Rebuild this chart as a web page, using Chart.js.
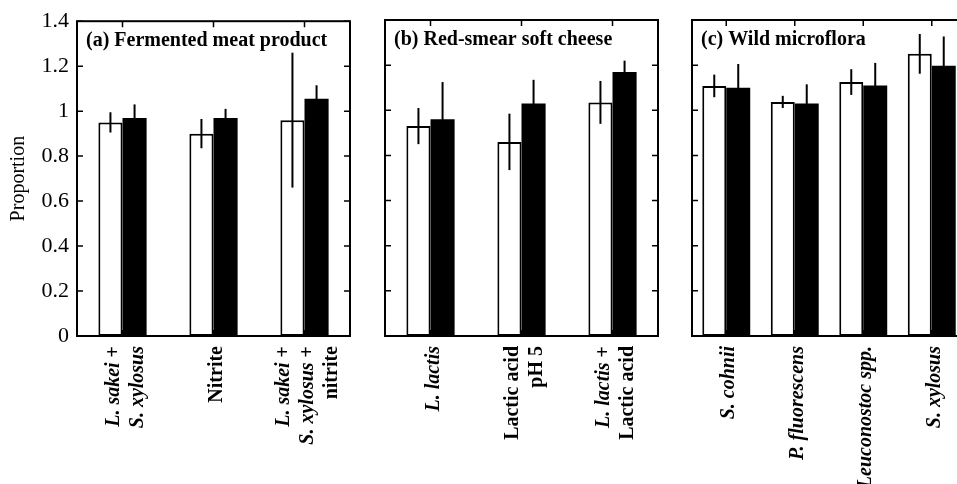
<!DOCTYPE html>
<html>
<head>
<meta charset="utf-8">
<script src="https://cdn.jsdelivr.net/npm/chart.js@4.4.0/dist/chart.umd.min.js"></script>
<style>
  html, body { margin: 0; padding: 0; background: #fff; overflow: hidden; width: 957px; height: 484px; position: relative; }
  canvas { position: absolute; top: 0; }
</style>
</head>
<body>
<canvas id="pa" width="362" height="484" style="left:0"></canvas>
<canvas id="pb" width="300" height="484" style="left:370px"></canvas>
<canvas id="pc" width="300" height="484" style="left:677px"></canvas>
<script>
// ---- data ----
const yTicks = [0, 0.2, 0.4, 0.6, 0.8, 1, 1.2, 1.4];
const yTitle = "Proportion";

// label lines: each segment is [text, italic]
const titleA = "(a) Fermented meat product";
const labelsA = [
  [[["L. sakei", 1], [" +", 0]], [["S. xylosus", 1]]],
  [[["Nitrite", 0]]],
  [[["L. sakei", 1], [" +", 0]], [["S. xylosus", 1], [" +", 0]], [["nitrite", 0]]],
];
const whiteA = [0.95, 0.90, 0.96];
const whiteErrA = [0.045, 0.065, 0.30];
const blackA = [0.97, 0.97, 1.055];
const blackErrA = [0.06, 0.04, 0.06];

const titleB = "(b) Red-smear soft cheese";
const labelsB = [
  [[["L. lactis", 1]]],
  [[["Lactic acid", 0]], [["pH 5", 0]]],
  [[["L. lactis", 1], [" +", 0]], [["Lactic acid", 0]]],
];
const whiteB = [0.93, 0.86, 1.035];
const whiteErrB = [0.08, 0.125, 0.095];
const blackB = [0.96, 1.03, 1.17];
const blackErrB = [0.165, 0.105, 0.05];

const titleC = "(c) Wild microflora";
const labelsC = [
  [[["S. cohnii", 1]]],
  [[["P. fluorescens", 1]]],
  [[["Leuconostoc spp.", 1]]],
  [[["S. xylosus", 1]]],
];
const whiteC = [1.108, 1.037, 1.125, 1.25];
const whiteErrC = [0.05, 0.027, 0.057, 0.088];
const blackC = [1.10, 1.03, 1.11, 1.197];
const blackErrC = [0.105, 0.085, 0.10, 0.13];

const SERIF = '"Liberation Serif", "Times New Roman", serif';

function plainLabel(lines) {
  return lines.map((line) => line.map((s) => s[0]).join("")).join(" ");
}

function makePanel(id, cfg) {
  const panelPlugin = {
    id: "panel_" + id,
    beforeDatasetsDraw(chart) {
      const { ctx, chartArea: a, scales } = chart;
      ctx.save();
      ctx.strokeStyle = "#000";
      ctx.lineWidth = 1.5;
      ctx.beginPath();
      for (const v of yTicks) {
        const y = scales.y.getPixelForValue(v);
        ctx.moveTo(a.left, y); ctx.lineTo(a.left + 6, y);
        ctx.moveTo(a.right, y); ctx.lineTo(a.right - 6, y);
      }
      cfg.labels.forEach((_, i) => {
        const x = scales.x.getPixelForValue(i);
        ctx.moveTo(x, a.top); ctx.lineTo(x, a.top + 6);
        ctx.moveTo(x, a.bottom); ctx.lineTo(x, a.bottom - 6);
      });
      ctx.stroke();
      ctx.restore();
    },
    afterDatasetsDraw(chart) {
      const { ctx, chartArea: a, scales } = chart;
      ctx.save();
      // error bars
      ctx.strokeStyle = "#000";
      ctx.lineWidth = 2;
      cfg.errors.forEach((errs, di) => {
        const meta = chart.getDatasetMeta(di);
        const vals = chart.data.datasets[di].data;
        meta.data.forEach((bar, j) => {
          const y1 = scales.y.getPixelForValue(vals[j] + errs[j]);
          const y2 = scales.y.getPixelForValue(vals[j] - errs[j]);
          ctx.beginPath();
          ctx.moveTo(bar.x, y1); ctx.lineTo(bar.x, y2);
          ctx.stroke();
        });
      });
      // box
      ctx.lineWidth = 2;
      ctx.strokeRect(a.left, a.top, a.right - a.left, a.bottom - a.top);
      // panel title
      ctx.fillStyle = "#000";
      ctx.font = "bold 20px " + SERIF;
      ctx.textAlign = "left";
      ctx.textBaseline = "alphabetic";
      ctx.fillText(cfg.title, a.left + 9, a.top + 25);
      // rotated category labels
      ctx.textBaseline = "middle";
      cfg.labels.forEach((lines, i) => {
        const cx = scales.x.getPixelForValue(i) + 3;
        ctx.save();
        ctx.translate(cx, a.bottom + 10);
        ctx.rotate(-Math.PI / 2);
        lines.forEach((line, li) => {
          const ly = (li - (lines.length - 1) / 2) * 24;
          let total = 0;
          for (const [t, it] of line) {
            ctx.font = (it ? "italic " : "") + "bold 20px " + SERIF;
            total += ctx.measureText(t).width;
          }
          let x = -total;
          for (const [t, it] of line) {
            ctx.font = (it ? "italic " : "") + "bold 20px " + SERIF;
            ctx.fillText(t, x, ly);
            x += ctx.measureText(t).width;
          }
        });
        ctx.restore();
      });
      // y title
      if (cfg.yTitle) {
        ctx.save();
        ctx.font = "20px " + SERIF;
        ctx.textAlign = "center";
        ctx.textBaseline = "middle";
        ctx.translate(19, (a.top + a.bottom) / 2);
        ctx.rotate(-Math.PI / 2);
        ctx.fillText(cfg.yTitle, 0, 0);
        ctx.restore();
      }
      ctx.restore();
    },
  };

  return new Chart(document.getElementById(id), {
    type: "bar",
    data: {
      labels: cfg.labels.map(plainLabel),
      datasets: [
        { data: cfg.white, backgroundColor: "#fff", borderColor: "#000", borderWidth: 2, borderSkipped: false },
        { data: cfg.black, backgroundColor: "#000", borderColor: "#000", borderWidth: 0 },
      ],
    },
    options: {
      responsive: false,
      animation: false,
      layout: { padding: { left: cfg.padLeft, right: cfg.padRight, top: 20, bottom: 148 } },
      datasets: { bar: { barPercentage: 1, categoryPercentage: cfg.catPct } },
      scales: {
        x: { display: false },
        y: {
          display: cfg.showY,
          min: 0,
          max: 1.4,
          afterFit: (s) => { s.width = cfg.showY ? 77 : 0; },
          afterBuildTicks: (s) => { s.ticks = yTicks.map((v) => ({ value: v })); },
          grid: { display: false, drawTicks: false },
          border: { display: false },
          ticks: {
            color: "#000", padding: 8,
            font: { family: SERIF, size: 22 },
            callback: (v) => String(v),
          },
        },
      },
      plugins: { legend: { display: false }, tooltip: { enabled: false } },
    },
    plugins: [panelPlugin],
  });
}

makePanel("pa", {
  title: titleA, labels: labelsA, white: whiteA, black: blackA,
  errors: [whiteErrA, blackErrA], showY: true, yTitle: yTitle,
  padLeft: 0, padRight: 12, catPct: 0.53,
});
makePanel("pb", {
  title: titleB, labels: labelsB, white: whiteB, black: blackB,
  errors: [whiteErrB, blackErrB], showY: false,
  padLeft: 15, padRight: 12, catPct: 0.53,
});
makePanel("pc", {
  title: titleC, labels: labelsC, white: whiteC, black: blackC,
  errors: [whiteErrC, blackErrC], showY: false,
  padLeft: 15, padRight: 11, catPct: 0.70,
});
</script>
</body>
</html>
